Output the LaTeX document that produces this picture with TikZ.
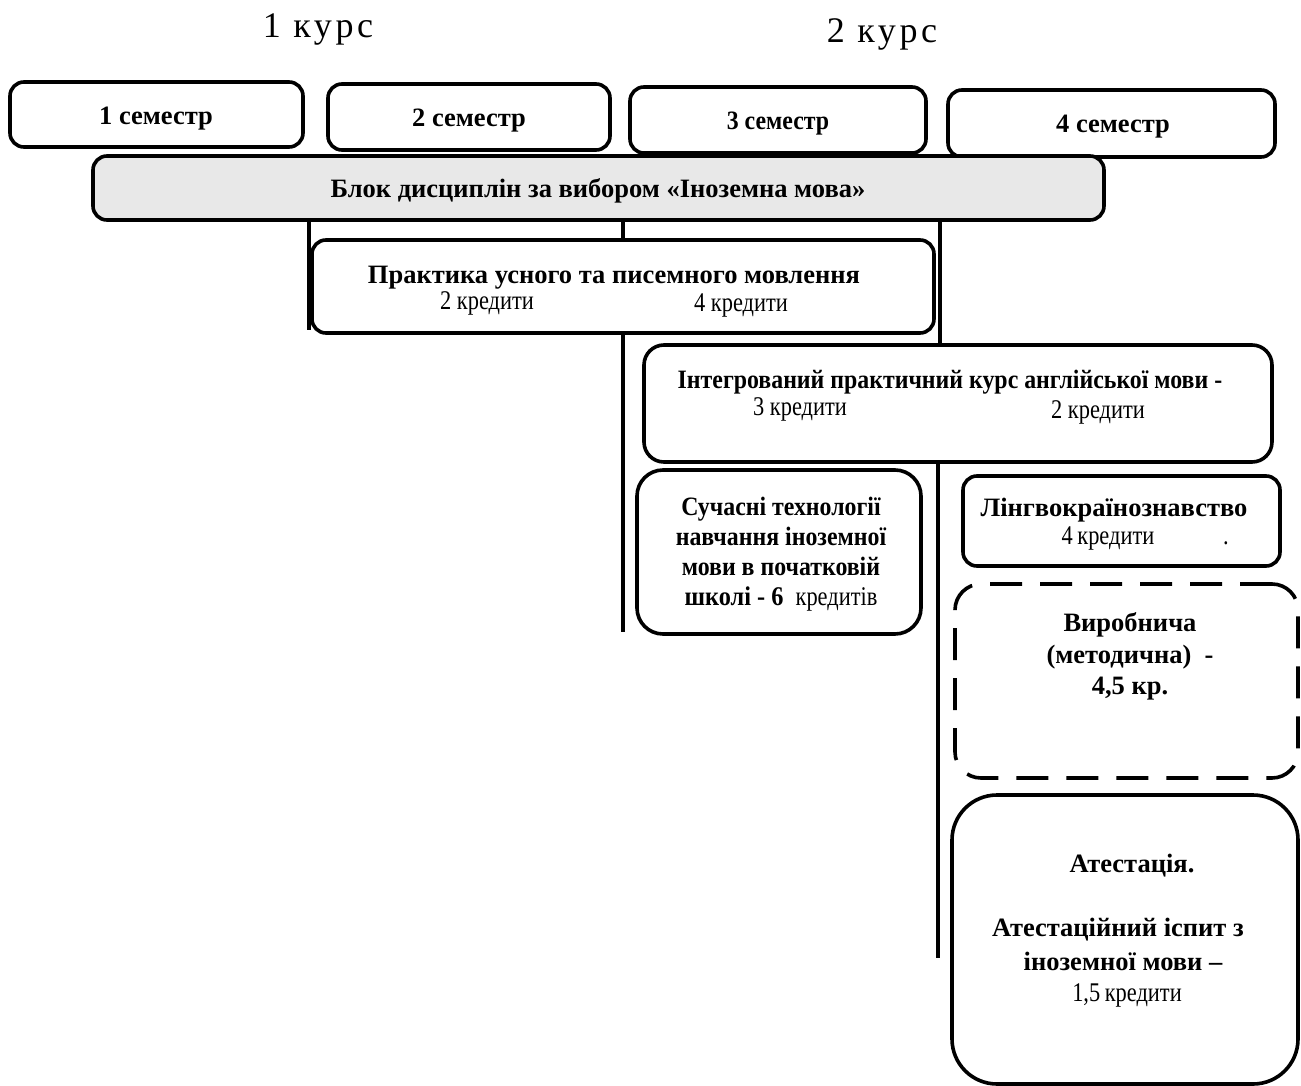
\documentclass[tikz,border=0pt]{standalone}
\usepackage{fontspec}
\setmainfont{Liberation Serif}
\newfontfamily\condfont[FakeStretch=0.9]{Liberation Serif}
\newfontfamily\credfont[FakeStretch=0.83]{Liberation Serif}
\newfontfamily\spacedfont[LetterSpace=10]{Liberation Serif}
\begin{document}
\begin{tikzpicture}[x=1pt,y=-1pt,
  box/.style={draw=black,line width=3.6pt,rounded corners=14pt,inner sep=0pt},
  bigbox/.style={box,rounded corners=26pt},
  txt/.style={anchor=base,inner sep=0pt,font=\fontsize{26.5}{30}\selectfont\bfseries},
  ctxt/.style={anchor=base,inner sep=0pt,font=\fontsize{26.5}{30}\selectfont\condfont\bfseries},
  cred/.style={anchor=base,inner sep=0pt,font=\fontsize{27}{30}\selectfont\credfont},
  course/.style={anchor=base,inner sep=0pt,font=\fontsize{36}{40}\selectfont\spacedfont},
  vline/.style={line width=3.6pt}]
\useasboundingbox (0,0) rectangle (1301,1086);
% course labels
\node[course] (k1) at (318,38) {1 курс};
\node[course] (k2) at (882,43) {2 курс};
% semesters
\node[box,minimum width=293pt,minimum height=65pt] (s1) at (156.5,114.5) {};
\node[box,minimum width=282pt,minimum height=66pt] (s2) at (469,117) {};
\node[box,minimum width=296pt,minimum height=66pt] (s3) at (778,120) {};
\node[box,minimum width=327pt,minimum height=67pt] (s4) at (1111.5,123.5) {};
\node[txt] (t1) at (156,125) {1 семестр};
\node[txt] (t2) at (469,127) {2 семестр};
\node[ctxt] (t3) at (778,130) {3 семестр};
\node[txt] (t4) at (1113,133) {4 семестр};
% block
\node[box,fill=black!9,minimum width=1011pt,minimum height=64pt] (blok) at (598.5,188) {};
\node[txt] (tb) at (598,198) {Блок дисциплін за вибором «Іноземна мова»};
% vertical connectors
\coordinate (a1) at (309,220); \coordinate (a2) at (309,330);
\coordinate (b1) at (623,220); \coordinate (b2) at (623,240);
\coordinate (b3) at (623,333); \coordinate (b4) at (623,632);
\coordinate (c1) at (940,220); \coordinate (c2) at (940,345);
\coordinate (d1) at (938,462); \coordinate (d2) at (938,958);
\draw[vline] (a1) -- (a2);
\draw[vline] (b1) -- (b2);
\draw[vline] (b3) -- (b4);
\draw[vline] (c1) -- (c2);
\draw[vline] (d1) -- (d2);
% practice
\node[box,fill=white,minimum width=622pt,minimum height=93pt] (prak) at (623,286.5) {};
\node[txt] (tp) at (614,283) {Практика усного та писемного мовлення};
\node[cred] (tp1) at (487,309) {2 кредити};
\node[cred] (tp2) at (741,311) {4 кредити};
% integrated
\node[box,fill=white,rounded corners=20pt,minimum width=628pt,minimum height=117pt] (integr) at (958,403.5) {};
\node[ctxt] (ti) at (950,388) {Інтегрований практичний курс англійської мови -};
\node[cred] (ti1) at (800,415) {3 кредити};
\node[cred] (ti2) at (1098,418) {2 кредити};
% modern technologies
\node[bigbox,minimum width=284pt,minimum height=164pt] (such) at (779,552) {};
\node[ctxt] (ts1) at (781,515) {Сучасні технології};
\node[ctxt] (ts2) at (781,545) {навчання іноземної};
\node[ctxt] (ts3) at (781,575) {мови в початковій};
\node[cred] (ts4) at (781,605) {\condfont\bfseries школі - 6\ \ \credfont\mdseries кредитів};
% lingvo
\node[box,minimum width=317pt,minimum height=90pt] (ling) at (1121.5,521) {};
\node[txt] (tl) at (1114,516) {Лінгвокраїнознавство};
\node[cred] (tl1) at (1108,544) {4\,кредити};
\node[cred] (tl2) at (1226,544) {.};
% production practice
\node[bigbox,dashed,dash pattern=on 32pt off 18pt,minimum width=343pt,minimum height=194pt] (vyr) at (1126.5,681) {};
\node[txt] (tv1) at (1130,631) {Виробнича};
\node[txt] (tv2) at (1130,663) {(методична)\ \ -};
\node[txt] (tv3) at (1130,694) {4,5 кр.};
% attestation
\node[box,rounded corners=45pt,minimum width=346pt,minimum height=289pt] (att) at (1125,939.5) {};
\node[txt] (ta1) at (1132,872) {Атестація.};
\node[txt] (ta2) at (1118,936) {Атестаційний іспит з};
\node[txt] (ta3) at (1123,970) {іноземної мови –};
\node[cred] (ta4) at (1127,1001) {1,5\,кредити};
\end{tikzpicture}
\end{document}
